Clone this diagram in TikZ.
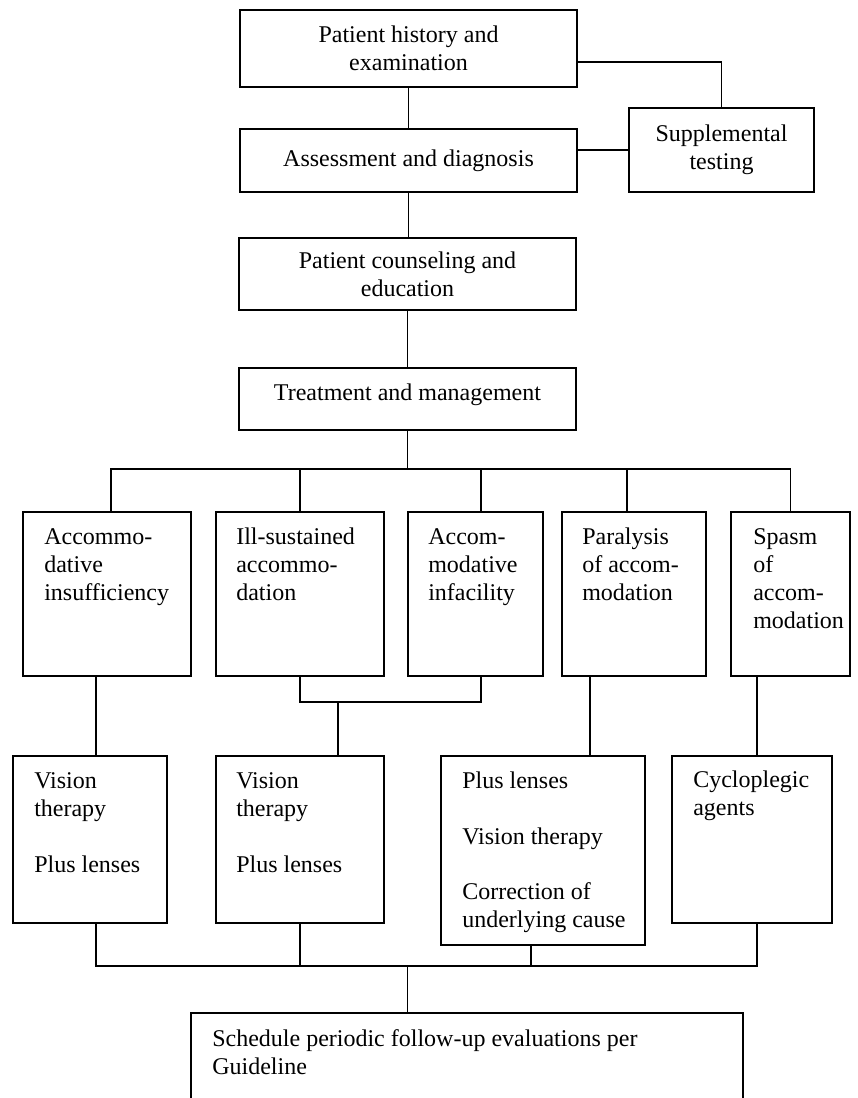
\documentclass[tikz,border=0pt]{standalone}
\usepackage{fontspec}
\setmainfont{Liberation Serif}
\usetikzlibrary{fit}
\begin{document}
\begin{tikzpicture}[x=0.75pt,y=-0.75pt,
  box/.style={draw, line width=1.2pt, inner sep=0pt, outer sep=0pt, align=center, font=\fontsize{18}{21}\selectfont},
  frame/.style={inner sep=0pt, outer sep=0pt},
  txt/.style={inner sep=0pt, align=left, anchor=base west, font=\fontsize{18}{21}\selectfont},
  ctxt/.style={inner sep=0pt, align=center, font=\fontsize{18}{21}\selectfont},
  wire/.style={line width=1.1pt}]
\useasboundingbox (0,0) rectangle (857,1098);

% top chain
\node[box, fit={(240,10) (577,87)}] (b1) {};
\node[ctxt] (b1t) at (b1.center) {Patient history and\\examination};
\node[box, fit={(240,129) (577,192)}] (b2) {};
\node[ctxt] (b2t) at (b2.center) {Assessment and diagnosis};
\node[box, fit={(629,108) (814,192)}] (supp) {};
\node[ctxt] (suppt) at (supp.center) {Supplemental\\testing};
\node[box, fit={(239,238) (576,310)}] (b3) {};
\node[ctxt] (b3t) at (b3.center) {Patient counseling and\\education};
\node[box, fit={(239,368) (576,430)}] (b4) {};
\node[ctxt] (b4t) at ([yshift=3pt]b4.center) {Treatment and management};

% row 1 (text nodes anchored at the baseline of their last line)
\node[box, fit={(23,512) (191,676)}] (A) {};
\node[box, fit={(216,512) (384,676)}] (B) {};
\node[box, fit={(408,512) (543,676)}] (C) {};
\node[box, fit={(562,512) (706,676)}] (D) {};
\node[box, fit={(731,512) (850,676)}] (E) {};
\node[txt] (At) at (44,600) {Accommo-\\dative\\insufficiency};
\node[txt] (Bt) at (236,600) {Ill-sustained\\accommo-\\dation};
\node[txt] (Ct) at (428,600) {Accom-\\modative\\infacility};
\node[txt] (Dt) at (582,600) {Paralysis\\of accom-\\modation};
\node[txt] (Et) at (753,628) {Spasm\\of\\accom-\\modation};

% row 2
\node[box, fit={(13,756) (167,923)}] (F) {};
\node[box, fit={(216,756) (384,923)}] (G) {};
\node[box, fit={(441,756) (645,945)}] (H) {};
\node[box, fit={(672,756) (832,923)}] (I) {};
\node[txt] (Ft) at (34,872) {Vision\\therapy\\[21pt]Plus lenses};
\node[txt] (Gt) at (236,872) {Vision\\therapy\\[21pt]Plus lenses};
\node[txt] (Ht) at (462,927) {Plus lenses\\[21pt]Vision therapy\\[20pt]Correction of\\underlying cause};
\node[txt] (It) at (693,815) {Cycloplegic\\agents};

% bottom (open) box
\node[frame, fit={(191,1013) (743,1104)}] (bot) {};
\draw[line width=1.2pt] (bot.south west) |- (bot.north east) -- (bot.south east);
\node[txt] (bott) at (212,1074) {Schedule periodic follow-up evaluations per\\Guideline};

% connectors top
\draw[wire] (b1.south) -- (b2.north);
\draw[wire] ([yshift=-10pt]b1.east) -| (supp.north);
\draw[wire] (b2.east |- supp.west) -- (supp.west);
\draw[wire] (b2.south) -- (b2.south |- b3.north);
\draw[wire] (b3.south) -- (b4.north);
\draw[wire] (b4.south) -- ++(0,39) coordinate (bus1);

% bus 1
\coordinate (tA) at ([xshift=3pt]A.north);
\coordinate (tC) at ([xshift=4pt]C.north);
\coordinate (tD) at ([xshift=-5.25pt]D.north);
\draw[wire] (tA) |- (bus1) -| (E.north);
\draw[wire] (B.north) -- (B.north |- bus1);
\draw[wire] (tC) -- (tC |- bus1);
\draw[wire] (tD) -- (tD |- bus1);

% row 1 -> row 2
\draw[wire] ([xshift=-8.25pt]A.south) coordinate (sA) -- (sA |- F.north);
\draw[wire] (B.south) -- ++(0,26) coordinate (bcL) -| ([xshift=4pt]C.south);
\draw[wire] ([xshift=28.5pt]G.north) coordinate (tG) -- (tG |- bcL);
\draw[wire] ([xshift=-33pt]D.south) coordinate (sD) -- (sD |- H.north);
\draw[wire] ([xshift=-25pt]E.south) coordinate (sE) -- (sE |- I.north);

% bus 2
\draw[wire] ([xshift=4.5pt]F.south) -- ++(0,43) coordinate (bus2) -| ([xshift=3.75pt]I.south);
\draw[wire] (G.south) -- (G.south |- bus2);
\draw[wire] ([xshift=-9pt]H.south) coordinate (bH) -- (bH |- bus2);
\draw[wire] (b4.south |- bus2) -- (b4.south |- bot.north);
\end{tikzpicture}
\end{document}
